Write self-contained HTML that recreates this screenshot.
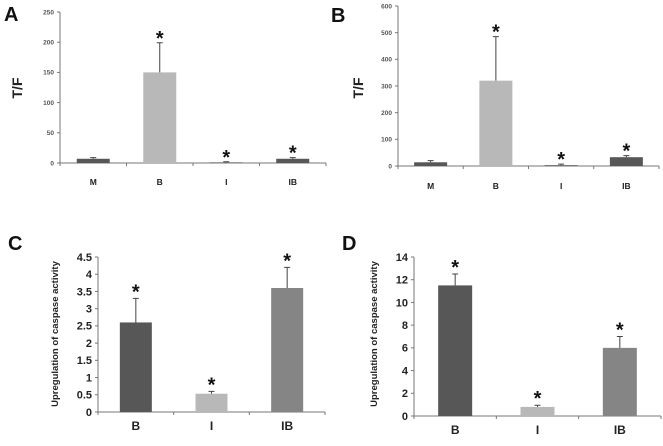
<!DOCTYPE html>
<html><head><meta charset="utf-8"><style>
html,body{margin:0;padding:0;background:#fff;width:663px;height:446px;overflow:hidden;font-family:"Liberation Sans",sans-serif}
</style></head><body>
<svg id="fig" width="663" height="446" viewBox="0 0 663 446" xmlns="http://www.w3.org/2000/svg"></svg>
<script>
// Panel A data
const catsA = ["M","B","I","IB"];
const valsA = [7,150,1,7];
const errA = [9,199,2,9];
const sigA = [false,true,true,true];
const ticksA = [0,50,100,150,200,250];
// Panel B data
const catsB = ["M","B","I","IB"];
const valsB = [14,320,3,33];
const errB = [20,485,7,39];
const sigB = [false,true,true,true];
const ticksB = [0,100,200,300,400,500,600];
// Panel C data
const catsC = ["B","I","IB"];
const valsC = [2.6,0.53,3.6];
const errC = [3.3,0.6,4.2];
const sigC = [true,true,true];
const ticksC = [0,0.5,1,1.5,2,2.5,3,3.5,4,4.5];
// Panel D data
const catsD = ["B","I","IB"];
const valsD = [11.5,0.8,6];
const errD = [12.5,0.95,7];
const sigD = [true,true,true];
const ticksD = [0,2,4,6,8,10,12,14];

const NS="http://www.w3.org/2000/svg";
const svg=document.getElementById('fig');
function mk(tag,attrs,parent,text){const e=document.createElementNS(NS,tag);for(const k in attrs)e.setAttribute(k,attrs[k]);if(text!==undefined)e.textContent=text;(parent||svg).appendChild(e);return e;}

function panel(cfg,cats,vals,errs,sig,ticks){
  const g=mk('g',{});
  
  
  const ymax=ticks[ticks.length-1];
  const y=v=>cfg.y0-(v/ymax)*(cfg.y0-cfg.yTop);
  const cw=(cfg.x1-cfg.x0)/cats.length;
  const xc=i=>cfg.x0+cw*(i+0.5);
  const L=mk('text',{x:cfg.lx,y:cfg.ly,'font-size':20,'font-weight':'bold',fill:'#111'},g,cfg.id);
  
  
  const ya=mk('line',{x1:cfg.x0,y1:cfg.yTop,x2:cfg.x0,y2:cfg.y0,stroke:'#777','stroke-width':1},g);
  
  
  const xa=mk('line',{x1:cfg.x0,y1:cfg.y0,x2:cfg.x1,y2:cfg.y0,stroke:'#777','stroke-width':1},g);
  
  
  ticks.forEach(t=>{
    mk('line',{x1:cfg.x0-3,y1:y(t),x2:cfg.x0,y2:y(t),stroke:'#777'},g);
    const tl=mk('text',{x:cfg.x0-6,y:y(t)+cfg.tfs*0.35,'font-size':cfg.tfs,'font-weight':'bold','text-anchor':'end',fill:cfg.tcol},g,String(t));
    
    
  });
  for(let i=0;i<=cats.length;i++){
    const xx=cfg.x0+cw*i;
    mk('line',{x1:xx,y1:cfg.y0,x2:xx,y2:cfg.y0+3,stroke:'#777'},g);
  }
  cats.forEach((c,i)=>{
    const bw=cfg.bw;
    const b=mk('rect',{x:xc(i)-bw/2,y:y(vals[i]),width:bw,height:cfg.y0-y(vals[i]),fill:cfg.colors[i]},g);
    
    
    const e=mk('path',{d:`M${xc(i)} ${y(vals[i])}V${y(errs[i])}M${xc(i)-3} ${y(errs[i])}H${xc(i)+3}`,stroke:'#444','stroke-width':1,fill:'none'},g);
    
    
    if(sig[i]){
      const s=mk('text',{x:xc(i),y:y(errs[i])+cfg.sOff,'font-size':cfg.sfs,'font-weight':'bold','text-anchor':'middle',fill:'#111'},g,'*');
      
      
    }
    const cl=mk('text',{x:xc(i),y:cfg.cly,'font-size':cfg.cfs,'font-weight':'bold','text-anchor':'middle',fill:'#222'},g,c);
    
    
  });
  const yt=mk('text',{x:0,y:0,'font-size':cfg.yfs,'font-weight':'bold','text-anchor':'middle',fill:'#222',transform:`translate(${cfg.ytx},${cfg.yty}) rotate(-90)`},g,cfg.ytitle);
  
  
}
const dk='#575757',lt='#b8b8b8',md='#858585';
panel({id:'A',x0:60,x1:326,y0:163,yTop:12,bw:33,lx:4,ly:21,tfs:6.5,tcol:'#555',sfs:20,sOff:2,cly:185,cfs:8.5,yfs:14,ytitle:'T/F',ytx:22,yty:88,colors:[dk,lt,dk,dk]},catsA,valsA,errA,sigA,ticksA);
panel({id:'B',x0:398,x1:659,y0:166,yTop:6,bw:33,lx:331,ly:22,tfs:6.5,tcol:'#555',sfs:20,sOff:2,cly:189,cfs:8.5,yfs:14,ytitle:'T/F',ytx:363,yty:88,colors:[dk,lt,dk,dk]},catsB,valsB,errB,sigB,ticksB);
panel({id:'C',x0:98,x1:325,y0:412,yTop:257,bw:32,lx:8,ly:250,tfs:11,tcol:'#222',sfs:20,sOff:0,cly:430,cfs:12,yfs:9.5,ytitle:'Upregulation of caspase activity',ytx:58,yty:334,colors:[dk,lt,md]},catsC,valsC,errC,sigC,ticksC);
panel({id:'D',x0:414,x1:661,y0:416,yTop:257,bw:34,lx:342,ly:250,tfs:11,tcol:'#222',sfs:20,sOff:0,cly:434,cfs:12,yfs:9.5,ytitle:'Upregulation of caspase activity',ytx:377,yty:334,colors:[dk,lt,md]},catsD,valsD,errD,sigD,ticksD);
</script>
</body></html>
